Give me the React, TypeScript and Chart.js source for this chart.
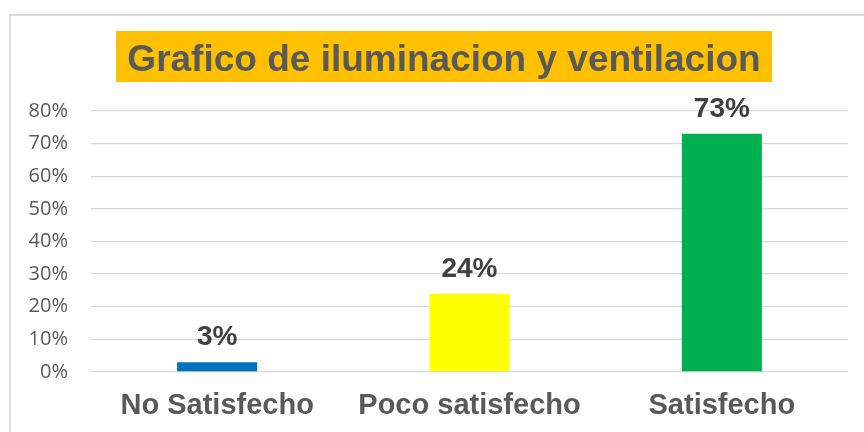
import React, { useEffect, useRef } from "react";
import { Chart, registerables } from "chart.js";

Chart.register(...registerables);

const TITLE = "Grafico de iluminacion y ventilacion";
const categories = ["No Satisfecho", "Poco satisfecho", "Satisfecho"];
const values = [0.03, 0.24, 0.73];
const dataLabels = ["3%", "24%", "73%"];
const barColors = ["#0070C0", "#FFFF00", "#00B050"];
const yTickLabels = ["0%", "10%", "20%", "30%", "40%", "50%", "60%", "70%", "80%"];

const framePlugin = {
  id: "frame",
  beforeDraw(chart: any) {
    const ctx = chart.ctx;
    ctx.save();
    ctx.fillStyle = "#ffffff";
    ctx.fillRect(0, 0, chart.width, chart.height);
    ctx.fillStyle = "#dcdcdc";
    ctx.fillRect(9, 14, chart.width, 2);
    ctx.fillRect(9, 14, 2, chart.height);
    ctx.restore();
  },
  afterDraw(chart: any) {
    const ctx = chart.ctx;
    ctx.save();
    ctx.fillStyle = "#FFC000";
    ctx.fillRect(116, 31, 656, 51);
    ctx.fillStyle = "#595959";
    ctx.font = "bold 37px 'Liberation Sans', Arial, sans-serif";
    ctx.textAlign = "center";
    ctx.textBaseline = "alphabetic";
    ctx.fillText(TITLE, 444, 71);
    const meta = chart.getDatasetMeta(0);
    ctx.fillStyle = "#404040";
    ctx.font = "bold 28px 'Liberation Sans', Arial, sans-serif";
    meta.data.forEach((bar: any, i: number) => {
      ctx.fillText(dataLabels[i], bar.x, bar.y - 17);
    });
    ctx.restore();
  },
};

export default function App() {
  const ref = useRef<HTMLCanvasElement | null>(null);
  useEffect(() => {
    if (!ref.current) return;
    const chart = new Chart(ref.current, {
      type: "bar",
      data: {
        labels: categories,
        datasets: [
          {
            data: values,
            backgroundColor: barColors,
            borderWidth: 0,
            barPercentage: 0.634,
            categoryPercentage: 0.5,
          },
        ],
      },
      options: {
        animation: false,
        responsive: false,
        layout: { padding: { left: 0, right: 16, top: 111, bottom: 0 } },
        plugins: {
          legend: { display: false },
          title: { display: false },
          tooltip: { enabled: false },
        },
        scales: {
          x: {
            grid: { display: false, drawTicks: false },
            border: { display: false },
            ticks: {
              color: "#595959",
              font: { family: "'Liberation Sans', Arial, sans-serif", size: 29, weight: "bold" },
              padding: 17,
            },
            afterFit(scale: any) {
              scale.height = 60;
            },
          },
          y: {
            min: 0,
            max: 0.8,
            grid: { color: "#d9d9d9", lineWidth: 1.3, drawTicks: false },
            border: { display: false },
            ticks: {
              stepSize: 0.1,
              color: "#595959",
              font: { family: "'Open Sans', sans-serif", size: 20 },
              padding: 23,
              callback: (_v: any, i: number) => yTickLabels[i],
            },
            afterFit(scale: any) {
              scale.width = 91;
            },
          },
        },
      },
      plugins: [framePlugin],
    });
    return () => chart.destroy();
  }, []);
  return (
    <div style={{ position: "fixed", left: 0, top: 0, width: 864, height: 432, background: "#fff" }}>
      <canvas ref={ref} width={864} height={432} style={{ display: "block" }} />
    </div>
  );
}
